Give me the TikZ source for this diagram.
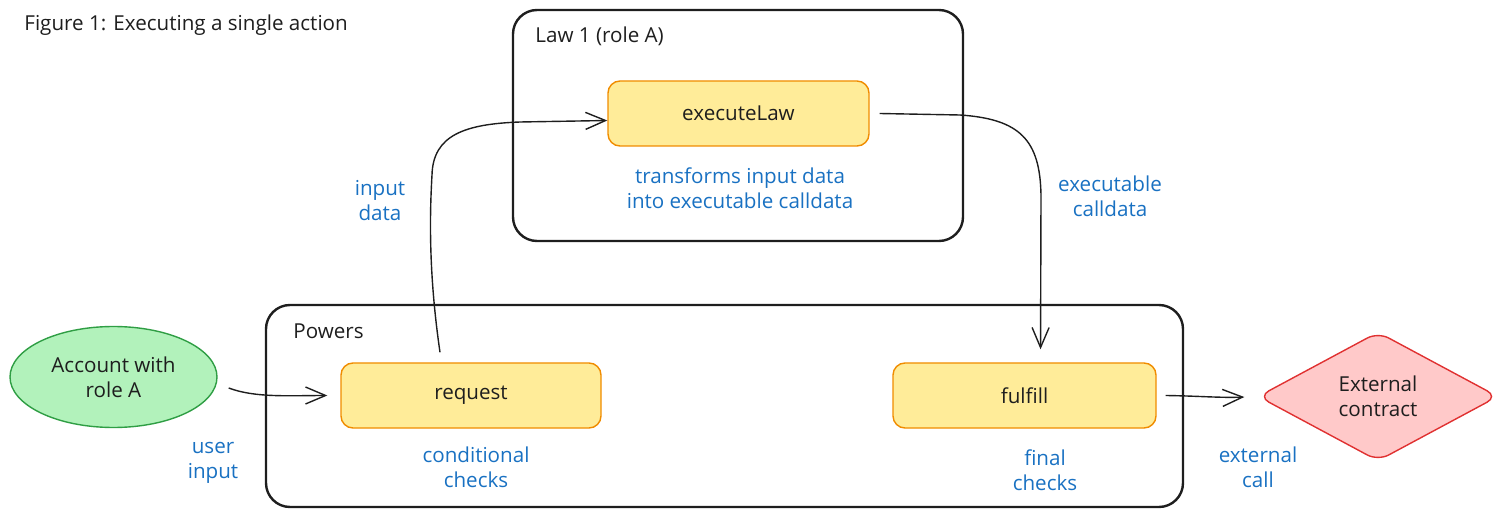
\documentclass[tikz,border=0pt]{standalone}
\usepackage{fontspec}
\setmainfont{Open Sans}
\usetikzlibrary{arrows.meta,shapes.geometric,calc}
\definecolor{ink}{HTML}{1E1E1E}
\definecolor{yfill}{HTML}{FFEC99}
\definecolor{ystroke}{HTML}{F08C00}
\definecolor{gfill}{HTML}{B2F2BB}
\definecolor{gstroke}{HTML}{2F9E44}
\definecolor{rfill}{HTML}{FFC9C9}
\definecolor{rstroke}{HTML}{E03131}
\definecolor{blueink}{HTML}{1971C2}
\begin{document}
\begin{tikzpicture}[x=0.5pt,y=-0.5pt,
  txt/.style={font=\fontsize{10.3}{12.5}\selectfont, text=ink, inner sep=0pt},
  container/.style={draw=ink, line width=1.2pt, rounded corners=12pt, inner sep=0pt},
  fnbox/.style={txt, draw=ystroke, fill=yfill, line width=0.7pt, rounded corners=6pt, minimum height=32.5pt},
  note/.style={txt, text=blueink, align=center},
  arr/.style={draw=ink, line width=0.7pt, -{Straight Barb[length=10pt,width=8.5pt]}}]
\useasboundingbox (0,0) rectangle (1511,518);

% containers
\node[container, minimum width=225pt, minimum height=115.5pt] (law) at (738,125.5) {};
\node[container, minimum width=458.5pt, minimum height=101pt] (powers) at (724.5,406) {};
\node[txt, anchor=west] (lawlbl) at (535,36) {Law 1 (role A)};
\node[txt, anchor=west] (powlbl) at (293,331) {Powers};

% title
\node[txt, anchor=west] (title) at (24,25) {Figure 1: Executing a single action};

% function boxes
\node[fnbox, minimum width=130.5pt] (exec) at (738.5,113.5) {executeLaw};
\node[fnbox, minimum width=130pt] (req) at (471,395.5) {request};
\node[fnbox, minimum width=131.5pt] (ful) at (1024.5,395.5) {fulfill};

% account and external contract
\node[txt, ellipse, draw=gstroke, fill=gfill, line width=0.7pt, minimum width=103.5pt, minimum height=50.5pt, align=center] (acct) at (113.5,377) {Account with\\role A};
\node[txt, diamond, draw=rstroke, fill=rfill, line width=0.7pt, minimum width=120pt, minimum height=64.5pt, rounded corners=6pt, align=center] (ext) at (1378,396.5) {External\\contract};

% notes
\node[note] (n1) at (740,188) {transforms input data\\into executable calldata};
\node[note] (n2) at (476,467.5) {conditional\\checks};
\node[note] (n3) at (1045,470.5) {final\\checks};
\node[note] (n4) at (213,462.5) {user\\input};
\node[note] (n5) at (1258,467.5) {external\\call};
\node[note] (n6) at (380,200.5) {input\\data};
\node[note] (n7) at (1110,196.5) {executable\\calldata};

% connectors
\draw[arr, shorten >=6.5pt] ([shift={(11,11)}]acct.east) .. controls (255,398) and (290,395.5) .. (req.west);
\draw[arr] ([shift={(-31,-10)}]req.north) .. controls (428,270) and (430,210) .. (432,175)
   .. controls (433,135) and (465,124) .. (520,122) -- ([shift={(0,7)}]exec.west);
\draw[arr, shorten >=6.5pt] ([shift={(10,0)}]exec.east) -- (960,115) .. controls (1020,119) and (1040,140) .. (1041,195) -- ([shift={(16,0)}]ful.north);
\draw[arr, shorten >=6.5pt] ([shift={(9,0)}]ful.east) .. controls (1200,396) and (1220,398) .. (ext.west);
\end{tikzpicture}
\end{document}
